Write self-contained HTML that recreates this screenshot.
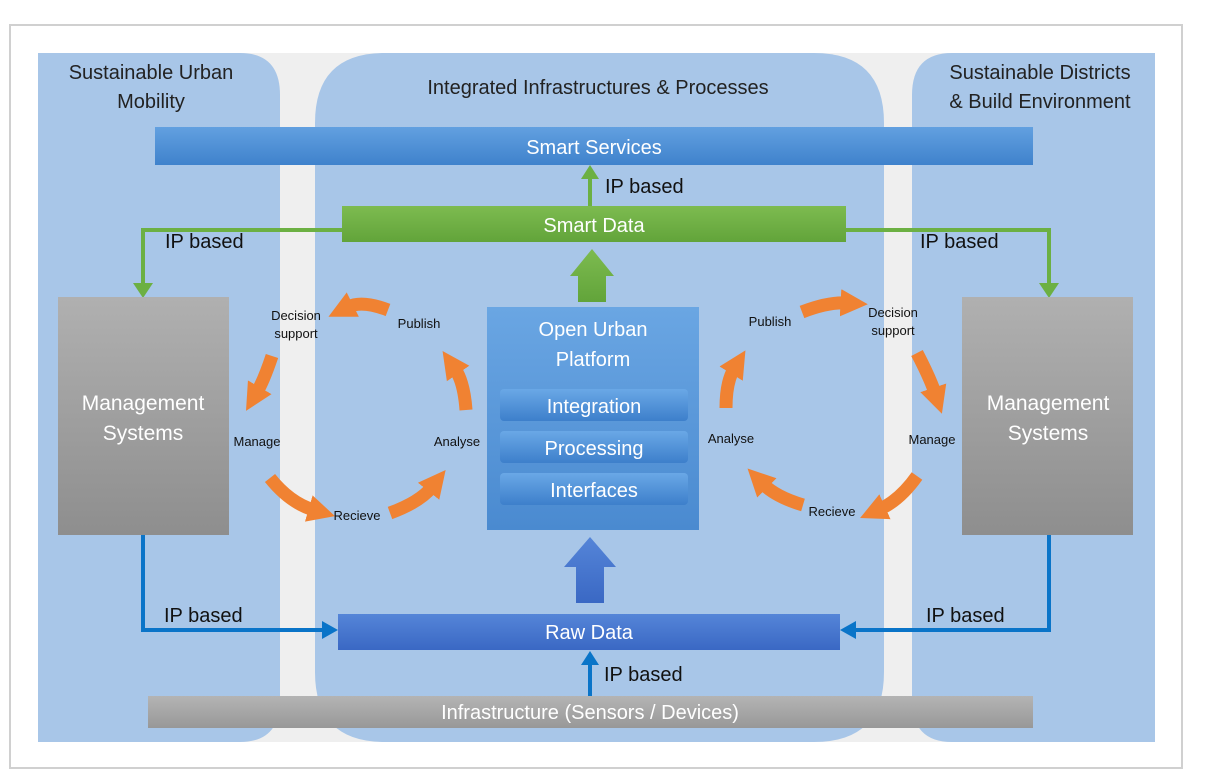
<!DOCTYPE html>
<html><head><meta charset="utf-8"><style>
html,body{margin:0;padding:0;background:#fff;}
svg{display:block;}
text{font-family:"Liberation Sans",sans-serif;}
</style></head><body>
<svg width="1210" height="779" viewBox="0 0 1210 779" xmlns="http://www.w3.org/2000/svg">
<defs>
<linearGradient id="gs" x1="0" y1="0" x2="0" y2="1"><stop offset="0" stop-color="#62a0e0"/><stop offset="1" stop-color="#3f82cc"/></linearGradient>
<linearGradient id="gd" x1="0" y1="0" x2="0" y2="1"><stop offset="0" stop-color="#7dbb50"/><stop offset="1" stop-color="#62a43a"/></linearGradient>
<linearGradient id="gr" x1="0" y1="0" x2="0" y2="1"><stop offset="0" stop-color="#5585d8"/><stop offset="1" stop-color="#3a68c4"/></linearGradient>
<linearGradient id="gg" x1="0" y1="0" x2="0" y2="1"><stop offset="0" stop-color="#b0b0b0"/><stop offset="1" stop-color="#8e8e8e"/></linearGradient>
<linearGradient id="gi" x1="0" y1="0" x2="0" y2="1"><stop offset="0" stop-color="#b4b4b4"/><stop offset="1" stop-color="#989898"/></linearGradient>
<linearGradient id="gp" x1="0" y1="0" x2="0" y2="1"><stop offset="0" stop-color="#6aa6e3"/><stop offset="1" stop-color="#4a8ad0"/></linearGradient>
<linearGradient id="gb" x1="0" y1="0" x2="0" y2="1"><stop offset="0" stop-color="#6aa8e6"/><stop offset="1" stop-color="#3d7fcb"/></linearGradient>
<marker id="ao" viewBox="0 0 10 10" refX="2" refY="5" markerWidth="2.1" markerHeight="2.3" orient="auto"><path d="M0,0 L10,5 L0,10 z" fill="#f08232"/></marker>
</defs>
<rect x="10" y="25" width="1172" height="743" fill="#fff" stroke="#d0d0d0" stroke-width="2"/>
<rect x="38" y="53" width="1117" height="689" fill="#efefef"/>
<path d="M38,53 H240 Q280,53 280,95 V700 Q280,742 240,742 H38 Z" fill="#a8c6e8"/>
<path d="M1155,53 H952 Q912,53 912,95 V700 Q912,742 952,742 H1155 Z" fill="#a8c6e8"/>
<path d="M385,53 H814 Q884,53 884,123 V672 Q884,742 814,742 H385 Q315,742 315,672 V123 Q315,53 385,53 Z" fill="#a8c6e8"/>
<text x="151" y="79" font-size="20" text-anchor="middle" fill="#222">Sustainable Urban</text>
<text x="151" y="108" font-size="20" text-anchor="middle" fill="#222">Mobility</text>
<text x="598" y="94" font-size="20" text-anchor="middle" fill="#222">Integrated Infrastructures &amp; Processes</text>
<text x="1040" y="79" font-size="20" text-anchor="middle" fill="#222">Sustainable Districts</text>
<text x="1040" y="108" font-size="20" text-anchor="middle" fill="#222">&amp; Build Environment</text>
<g fill="none" stroke-width="4">
<path d="M342,230 H143 V286" stroke="#6cb043"/>
<path d="M846,230 H1049 V286" stroke="#6cb043"/>
<path d="M143,535 V630 H325" stroke="#0a74c8"/>
<path d="M1049,535 V630 H853" stroke="#0a74c8"/>
<path d="M590,206 V176" stroke="#6cb043"/>
<path d="M590,696 V664" stroke="#0a74c8"/>
</g>
<polygon points="133,283 153,283 143,298" fill="#6cb043"/>
<polygon points="1039,283 1059,283 1049,298" fill="#6cb043"/>
<polygon points="322,621 322,639 338,630" fill="#0a74c8"/>
<polygon points="856,621 856,639 840,630" fill="#0a74c8"/>
<polygon points="581,179 599,179 590,165" fill="#6cb043"/>
<polygon points="581,665 599,665 590,651" fill="#0a74c8"/>
<rect x="155" y="127" width="878" height="38" fill="url(#gs)"/>
<text x="594" y="154" font-size="20" text-anchor="middle" fill="#fff">Smart Services</text>
<text x="605" y="193" font-size="20" fill="#111">IP based</text>
<rect x="342" y="206" width="504" height="36" fill="url(#gd)"/>
<text x="594" y="232" font-size="20" text-anchor="middle" fill="#fff">Smart Data</text>
<text x="165" y="248" font-size="20" fill="#111">IP based</text>
<text x="920" y="248" font-size="20" fill="#111">IP based</text>
<polygon points="578,302 606,302 606,276 614,276 592,249 570,276 578,276" fill="url(#gd)"/>
<rect x="58" y="297" width="171" height="238" fill="url(#gg)"/>
<text x="143" y="410" font-size="21" text-anchor="middle" fill="#fff">Management</text>
<text x="143" y="440" font-size="21" text-anchor="middle" fill="#fff">Systems</text>
<rect x="962" y="297" width="171" height="238" fill="url(#gg)"/>
<text x="1048" y="410" font-size="21" text-anchor="middle" fill="#fff">Management</text>
<text x="1048" y="440" font-size="21" text-anchor="middle" fill="#fff">Systems</text>
<rect x="487" y="307" width="212" height="223" fill="url(#gp)"/>
<text x="593" y="336" font-size="20" text-anchor="middle" fill="#fff">Open Urban</text>
<text x="593" y="366" font-size="20" text-anchor="middle" fill="#fff">Platform</text>
<rect x="500" y="389" width="188" height="32" rx="4" fill="url(#gb)"/>
<text x="594" y="413" font-size="20" text-anchor="middle" fill="#fff">Integration</text>
<rect x="500" y="431" width="188" height="32" rx="4" fill="url(#gb)"/>
<text x="594" y="455" font-size="20" text-anchor="middle" fill="#fff">Processing</text>
<rect x="500" y="473" width="188" height="32" rx="4" fill="url(#gb)"/>
<text x="594" y="497" font-size="20" text-anchor="middle" fill="#fff">Interfaces</text>
<polygon points="576,603 604,603 604,567 616,567 590,537 564,567 576,567" fill="url(#gr)"/>
<rect x="338" y="614" width="502" height="36" fill="url(#gr)"/>
<text x="589" y="639" font-size="20" text-anchor="middle" fill="#fff">Raw Data</text>
<text x="164" y="622" font-size="20" fill="#111">IP based</text>
<text x="926" y="622" font-size="20" fill="#111">IP based</text>
<text x="604" y="681" font-size="20" fill="#111">IP based</text>
<rect x="148" y="696" width="885" height="32" fill="url(#gi)"/>
<text x="590" y="719" font-size="20" text-anchor="middle" fill="#fff">Infrastructure (Sensors / Devices)</text>
<g fill="none" stroke="#f08232" stroke-width="13" marker-end="url(#ao)">
<path d="M388,310 Q362,300 348,307"/>
<path d="M272,356 Q264,380 257,392"/>
<path d="M270,478 Q290,503 314,510"/>
<path d="M390,513 Q420,502 432,487"/>
<path d="M466,410 Q464,382 455,369"/>
<path d="M802,312 Q828,302 846,303"/>
<path d="M917,353 Q930,378 935,393"/>
<path d="M917,476 Q900,500 880,509"/>
<path d="M803,505 Q776,497 763,484"/>
<path d="M726,408 Q726,382 734,369"/>
</g>
<g font-size="13" fill="#111">
<text x="296" y="320" text-anchor="middle">Decision</text>
<text x="296" y="338" text-anchor="middle">support</text>
<text x="419" y="328" text-anchor="middle">Publish</text>
<text x="257" y="446" text-anchor="middle">Manage</text>
<text x="357" y="520" text-anchor="middle">Recieve</text>
<text x="457" y="446" text-anchor="middle">Analyse</text>
<text x="770" y="326" text-anchor="middle">Publish</text>
<text x="893" y="317" text-anchor="middle">Decision</text>
<text x="893" y="335" text-anchor="middle">support</text>
<text x="932" y="444" text-anchor="middle">Manage</text>
<text x="832" y="516" text-anchor="middle">Recieve</text>
<text x="731" y="443" text-anchor="middle">Analyse</text>
</g>
</svg>
</body></html>
